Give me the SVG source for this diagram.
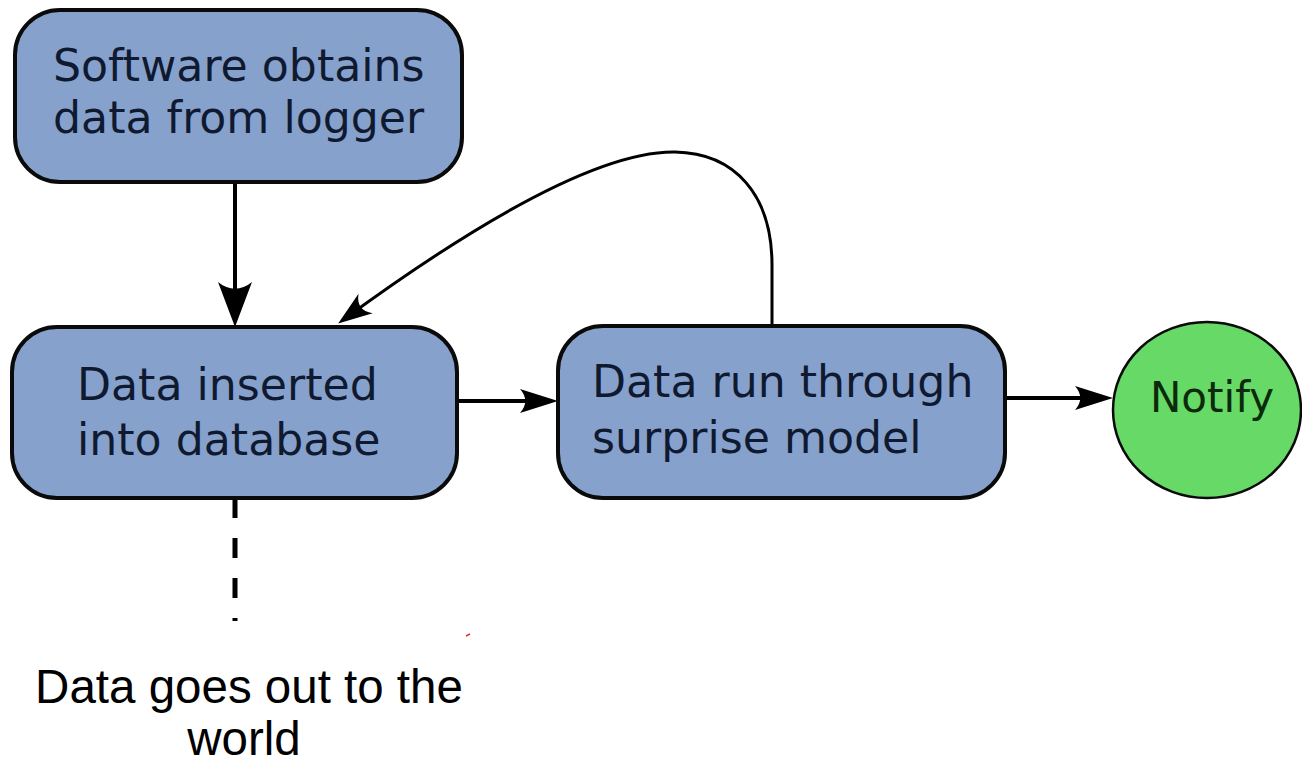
<svg xmlns="http://www.w3.org/2000/svg" width="1302" height="765" viewBox="0 0 1302 765">
<style>
.box{fill:#87a1cd;stroke:#0a0a0a;stroke-width:4}
.lbl{font-family:"DejaVu Sans",sans-serif;font-size:44.2px;fill:#0f1a30}
.conn{fill:none;stroke:#000;stroke-width:4}
.out{font-family:"Liberation Sans",Arial,sans-serif;font-size:47.5px;fill:#000;text-anchor:middle}
</style>
<defs>
<marker id="big" markerUnits="userSpaceOnUse" orient="auto" refX="0" refY="0" markerWidth="1" markerHeight="1" overflow="visible">
<path d="M8,0 L-37,-17 C-28,-6 -28,6 -37,17 Z" fill="#000"/>
</marker>
<marker id="med" markerUnits="userSpaceOnUse" orient="auto" refX="0" refY="0" markerWidth="1" markerHeight="1" overflow="visible">
<path d="M8,0 L-30,-12 C-23,-4 -23,4 -30,12 Z" fill="#000"/>
</marker>
<marker id="sml" markerUnits="userSpaceOnUse" orient="auto" refX="0" refY="0" markerWidth="1" markerHeight="1" overflow="visible">
<path d="M6,0 L-28,-12 C-20,-4 -20,4 -28,12 Z" fill="#000"/>
</marker>
</defs>
<rect width="1302" height="765" fill="#fff"/>
<g id="connectors">
<path class="conn" d="M235,183 L235,319" marker-end="url(#big)"/>
<path class="conn" d="M458,401 L550,401" marker-end="url(#med)"/>
<path class="conn" d="M1005,398 L1105,398" marker-end="url(#med)"/>
<path class="conn" style="stroke-width:3" d="M772,326 L772,265 C772,195 735,153 675,152 C610,151 500,205 343,320" marker-end="url(#sml)"/>
<path class="conn" style="stroke-width:5" stroke-dasharray="20,20" d="M235,498 L235,621"/>
</g>
<g id="n1">
<rect class="box" x="15" y="10" width="447" height="172" rx="45"/>
<text class="lbl" x="53" y="81">Software obtains</text>
<text class="lbl" x="53" y="133">data from logger</text>
</g>
<g id="n2">
<rect class="box" x="12" y="327" width="445" height="171" rx="45"/>
<text class="lbl" x="77" y="400">Data inserted</text>
<text class="lbl" x="77" y="455">into database</text>
</g>
<g id="n3">
<rect class="box" x="558" y="326" width="447" height="172" rx="45"/>
<text class="lbl" x="592" y="397">Data run through</text>
<text class="lbl" x="592" y="453">surprise model</text>
</g>
<g id="n4">
<ellipse cx="1207" cy="410" rx="94" ry="88" fill="#66d966" stroke="#0a0a0a" stroke-width="2.5"/>
<text x="1212" y="412" font-family="DejaVu Sans, sans-serif" font-size="42" fill="#0b2a0b" text-anchor="middle">Notify</text>
</g>
<g id="n5">
<text class="out" x="249" y="703">Data goes out to the</text>
<text class="out" x="244" y="755">world</text>
</g>
<path d="M466,636 L470,634" stroke="#e03030" stroke-width="1.5"/>
</svg>
